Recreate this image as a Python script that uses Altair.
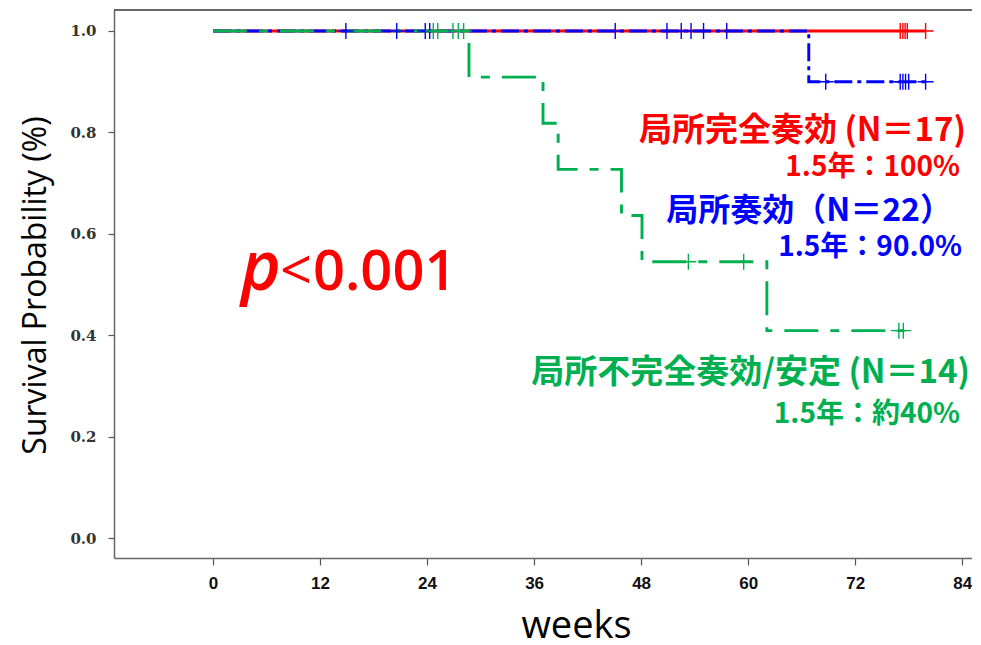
import altair as alt
import pandas as pd

# ---------------- data ----------------
groups = ["局所完全奏効", "局所奏効", "局所不完全奏効/安定"]
colors = ["#ff0000", "#0000ff", "#00b050"]

# Kaplan-Meier step points (time in weeks, survival)
red_times = [0.0]
red_surv = [1.0]
red_end = 79.9
red_censor = [77.05, 77.35, 77.6, 77.85, 79.9]

blue_times = [0.0, 66.8]
blue_surv = [1.0, 0.9]
blue_end = 79.9
blue_censor = [14.9, 20.6, 23.8, 24.3, 45.1, 50.9, 52.5, 53.6, 55.0, 57.6,
               68.7, 77.05, 77.35, 77.65, 78.0, 79.9]

green_times = [0.0, 28.7, 37.0, 38.7, 45.8, 48.1, 62.1]
green_surv = [1.0, 0.909, 0.818, 0.727, 0.636, 0.545, 0.409]
green_end = 77.4
green_censor = [24.7, 25.2, 26.9, 27.5, 28.1, 53.3, 59.5, 76.9, 77.4]

x_ticks = [0, 12, 24, 36, 48, 60, 72, 84]
y_ticks = [0.0, 0.2, 0.4, 0.6, 0.8, 1.0]

W, H = 858, 548
X_DOMAIN = [-11.1, 85.1]
Y_DOMAIN = [-0.0394, 1.0414]


def step_df(times, surv, end):
    rows = [{"t": t, "s": s, "o": i} for i, (t, s) in enumerate(zip(times, surv))]
    rows.append({"t": end, "s": surv[-1], "o": len(times)})
    return pd.DataFrame(rows)


def censor_df(times, surv, ctimes):
    out = []
    for c in ctimes:
        s = surv[0]
        for t, v in zip(times, surv):
            if t <= c:
                s = v
        out.append({"t": c, "s": s})
    return pd.DataFrame(out)


def xe():
    return alt.X("t:Q", scale=alt.Scale(domain=X_DOMAIN, nice=False, zero=False),
                 axis=alt.Axis(values=x_ticks, title="weeks",
                               titleX=462, titleY=68, titleBaseline="middle",
                               titleAlign="center"))


def ye():
    return alt.Y("s:Q", scale=alt.Scale(domain=Y_DOMAIN, nice=False, zero=False),
                 axis=alt.Axis(values=y_ticks, format=".1f",
                               title="Survival Probability (%)",
                               titleX=-79, titleY=275, titleBaseline="middle",
                               titleAlign="center"))


def km_line(df, color, dash):
    kw = dict(interpolate="step-after", color=color, strokeWidth=2.9, clip=True)
    if dash:
        kw["strokeDash"] = dash
    return alt.Chart(df).mark_line(**kw).encode(x=xe(), y=ye(), order="o:Q")


CROSS = "M0,-1L0,1M-1,0L1,0"


def km_censor(df, color):
    return alt.Chart(df).mark_point(shape=CROSS, filled=False, size=256,
                                    strokeWidth=1.4, color=color, opacity=1).encode(
        x=xe(), y=ye())


def label(text, x, y, color, size, align="right", font="Noto Sans CJK JP",
          weight="bold", style="normal", baseline="middle"):
    return alt.Chart(pd.DataFrame({"txt": [text]})).mark_text(
        align=align, baseline=baseline, font=font, fontSize=size,
        fontWeight=weight, fontStyle=style, color=color).encode(
        text="txt:N", x=alt.value(x - 114), y=alt.value(y - 10))


red_line = km_line(step_df(red_times, red_surv, red_end), colors[0], None)
blue_line = km_line(step_df(blue_times, blue_surv, blue_end), colors[1], [18, 5, 4, 5])
green_line = km_line(step_df(green_times, green_surv, green_end), colors[2], [34, 12, 9, 12])

red_c = km_censor(censor_df(red_times, red_surv, red_censor), colors[0])
blue_c = km_censor(censor_df(blue_times, blue_surv, blue_censor), colors[1])
green_c = km_censor(censor_df(green_times, green_surv, green_censor), colors[2])

top_rule = alt.Chart(pd.DataFrame({"a": [0]})).mark_rule(
    color="#333333", strokeWidth=1.5).encode(
    x=alt.value(0), x2=alt.value(W), y=alt.value(0))

texts = [
    label("局所完全奏効 (N＝17)", 966, 131, colors[0], 33),
    label("1.5年：100%", 960, 168, colors[0], 28),
    label("局所奏効（N＝22）", 952, 211, colors[1], 32),
    label("1.5年：90.0%", 962, 248, colors[1], 28),
    label("局所不完全奏効/安定 (N＝14)", 970, 373, colors[2], 33),
    label("1.5年：約40%", 960, 415, colors[2], 28),
    label("p", 241, 290, colors[0], 68, align="left", font="Open Sans",
          weight=600, style="italic", baseline="alphabetic"),
    label("<", 280, 290, colors[0], 56, align="left", font="Open Sans",
          weight="normal", baseline="alphabetic"),
    label("0.001", 313, 290, colors[0], 56, align="left", font="Open Sans",
          weight=600, baseline="alphabetic"),
]

chart = alt.layer(
    top_rule, red_line, blue_line, green_line, red_c, blue_c, green_c, *texts
).properties(
    width=W, height=H,
    autosize=alt.AutoSizeParams(type="none"),
    padding={"left": 106, "top": 2, "right": 0, "bottom": 92},
).configure_view(
    stroke=None
).configure_axis(
    grid=False, domainColor="#666666", domainWidth=1.5,
    tickColor="#555555", tickWidth=1.2,
    titleFont="Open Sans", titleFontWeight="normal", titleColor="#000000",
).configure_axisX(
    tickSize=7, labelFont="Liberation Sans Narrow, Liberation Sans, sans-serif",
    labelFontWeight="bold", labelFontSize=17, labelColor="#111111",
    labelPadding=10, titleFontSize=38,
).configure_axisY(
    tickSize=6, labelFont="DejaVu Serif, serif", labelFontWeight="bold",
    labelFontSize=15, labelColor="#333333", labelPadding=12, titleFontSize=32,
)

chart.save("out.html", embed_options={"renderer": "svg", "actions": False})
